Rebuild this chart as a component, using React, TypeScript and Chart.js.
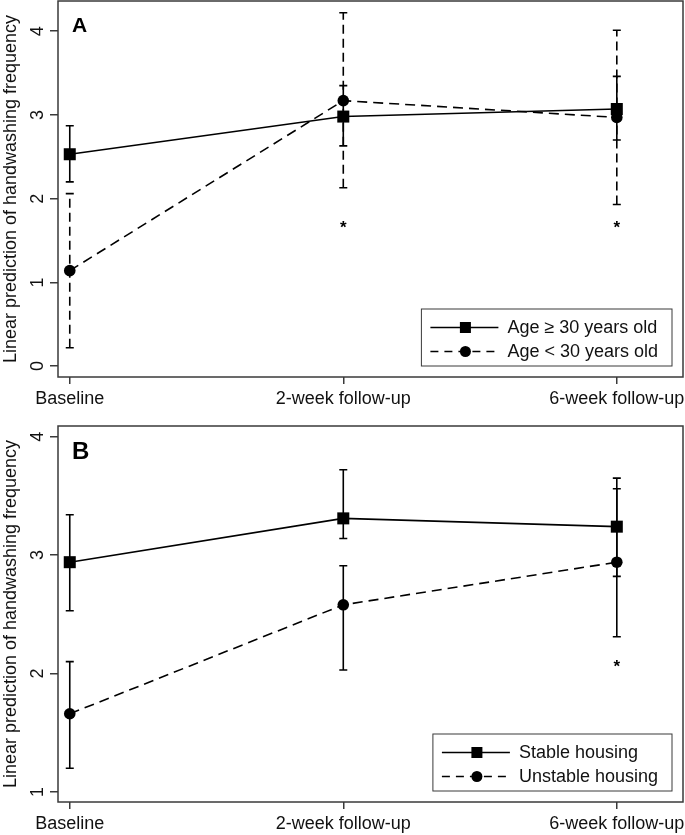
import React, { useEffect, useRef } from "react";
import { Chart, registerables } from "chart.js";

Chart.register(...registerables);

// ---------- Data ----------
const timepoints = ["Baseline", "2-week follow-up", "6-week follow-up"];
const yAxisTitle = "Linear prediction of handwashing frequency";

// Panel A
const ageOlderLabel = "Age \u2265 30 years old";
const ageOlderMean = [2.53, 2.98, 3.07];
const ageOlderLow = [2.2, 2.63, 2.7];
const ageOlderHigh = [2.87, 3.35, 3.46];

const ageYoungerLabel = "Age < 30 years old";
const ageYoungerMean = [1.14, 3.17, 2.97];
const ageYoungerLow = [0.22, 2.13, 1.93];
const ageYoungerHigh = [2.06, 4.22, 4.01];

const starsA = [null, 1.69, 1.69];
const yTicksA = [0, 1, 2, 3, 4];

// Panel B
const stableLabel = "Stable housing";
const stableMean = [2.94, 3.31, 3.24];
const stableLow = [2.53, 3.14, 2.82];
const stableHigh = [3.34, 3.72, 3.65];

const unstableLabel = "Unstable housing";
const unstableMean = [1.66, 2.58, 2.94];
const unstableLow = [1.2, 2.03, 2.31];
const unstableHigh = [2.1, 2.91, 3.56];

const starsB = [null, null, 2.08];
const yTicksB = [1, 2, 3, 4];

// ---------- Styling ----------
const FONT = '"Liberation Sans", Arial, Helvetica, sans-serif';
const FS = 18;
const INK = "#111";
const FRAME = "#3a3a3a";
const W = 685;

type Series = {
  label: string;
  mean: number[];
  low: number[];
  high: number[];
  dashed: boolean;
  point: "rect" | "circle";
};

type PanelCfg = {
  letter: string;
  letterSize: number;
  series: Series[];
  stars: (number | null)[];
  yTicks: number[];
  yMin: number;
  yMax: number;
  dashedErrorBars: boolean;
  padTop: number;
  height: number;
};

const panelA: PanelCfg = {
  letter: "A",
  letterSize: 21,
  series: [
    { label: ageOlderLabel, mean: ageOlderMean, low: ageOlderLow, high: ageOlderHigh, dashed: false, point: "rect" },
    { label: ageYoungerLabel, mean: ageYoungerMean, low: ageYoungerLow, high: ageYoungerHigh, dashed: true, point: "circle" },
  ],
  stars: starsA,
  yTicks: yTicksA,
  yMin: -0.13,
  yMax: 4.36,
  dashedErrorBars: true,
  padTop: 1,
  height: 410,
};

const panelB: PanelCfg = {
  letter: "B",
  letterSize: 24,
  series: [
    { label: stableLabel, mean: stableMean, low: stableLow, high: stableHigh, dashed: false, point: "rect" },
    { label: unstableLabel, mean: unstableMean, low: unstableLow, high: unstableHigh, dashed: true, point: "circle" },
  ],
  stars: starsB,
  yTicks: yTicksB,
  yMin: 0.915,
  yMax: 4.09,
  dashedErrorBars: false,
  padTop: 16,
  height: 425,
};

function drawMarker(ctx: CanvasRenderingContext2D, kind: string, x: number, y: number, size: number) {
  ctx.fillStyle = "#000";
  if (kind === "rect") {
    ctx.fillRect(x - size / 2, y - size / 2, size, size);
  } else {
    ctx.beginPath();
    ctx.arc(x, y, size / 2, 0, Math.PI * 2);
    ctx.fill();
  }
}

function makePlugin(cfg: PanelCfg) {
  return {
    id: "panelDecor",
    beforeDatasetsDraw(chart: any) {
      const { ctx, scales } = chart;
      const x = scales.x;
      const y = scales.y;
      ctx.save();
      ctx.strokeStyle = "#000";
      ctx.lineWidth = 1.6;
      cfg.series.forEach((s) => {
        s.mean.forEach((_, i) => {
          const px = x.getPixelForValue(i);
          const yl = y.getPixelForValue(s.low[i]);
          const yh = y.getPixelForValue(s.high[i]);
          ctx.setLineDash(cfg.dashedErrorBars && s.dashed ? [9, 5] : []);
          ctx.beginPath();
          ctx.moveTo(px, yl);
          ctx.lineTo(px, yh);
          ctx.stroke();
          ctx.setLineDash([]);
          ctx.beginPath();
          ctx.moveTo(px - 4, yl);
          ctx.lineTo(px + 4, yl);
          ctx.moveTo(px - 4, yh);
          ctx.lineTo(px + 4, yh);
          ctx.stroke();
        });
      });
      ctx.restore();
    },
    afterDraw(chart: any) {
      const { ctx, chartArea, scales } = chart;
      const x = scales.x;
      const y = scales.y;
      ctx.save();
      // frame
      ctx.strokeStyle = FRAME;
      ctx.lineWidth = 1.5;
      ctx.strokeRect(chartArea.left, chartArea.top, chartArea.right - chartArea.left, chartArea.bottom - chartArea.top);

      // y tick labels (rotated)
      ctx.fillStyle = INK;
      ctx.font = `${FS}px ${FONT}`;
      ctx.textAlign = "center";
      ctx.textBaseline = "middle";
      cfg.yTicks.forEach((v) => {
        const py = y.getPixelForValue(v);
        ctx.save();
        ctx.translate(chartArea.left - 20, py);
        ctx.rotate(-Math.PI / 2);
        ctx.fillText(String(v), 0, 0);
        ctx.restore();
      });

      // panel letter
      ctx.font = `bold ${cfg.letterSize}px ${FONT}`;
      ctx.textAlign = "left";
      ctx.textBaseline = "alphabetic";
      ctx.fillStyle = "#000";
      ctx.fillText(cfg.letter, chartArea.left + 14, chartArea.top + 15 + cfg.letterSize * 0.75);

      // significance stars
      ctx.font = `bold 17px ${FONT}`;
      ctx.textAlign = "center";
      cfg.stars.forEach((v, i) => {
        if (v == null) return;
        ctx.fillText("*", x.getPixelForValue(i), y.getPixelForValue(v) + 8);
      });

      // legend
      ctx.font = `${FS}px ${FONT}`;
      const tw = Math.max(...cfg.series.map((s) => ctx.measureText(s.label).width));
      const bw = 100 + tw;
      const bh = 57;
      const bx = chartArea.right - 11 - bw;
      const by = chartArea.bottom - 11 - bh;
      ctx.fillStyle = "#fff";
      ctx.fillRect(bx, by, bw, bh);
      ctx.strokeStyle = FRAME;
      ctx.lineWidth = 1;
      ctx.strokeRect(bx, by, bw, bh);
      cfg.series.forEach((s, r) => {
        const ry = by + 18.5 + r * 24;
        ctx.strokeStyle = "#000";
        ctx.lineWidth = 1.5;
        ctx.setLineDash(s.dashed ? [8, 6] : []);
        ctx.beginPath();
        ctx.moveTo(bx + 9, ry);
        ctx.lineTo(bx + 77, ry);
        ctx.stroke();
        ctx.setLineDash([]);
        drawMarker(ctx, s.point, bx + 44, ry, 11);
        ctx.fillStyle = INK;
        ctx.textAlign = "left";
        ctx.textBaseline = "middle";
        ctx.fillText(s.label, bx + 86, ry + 1);
      });
      ctx.restore();
    },
  };
}

function Panel({ cfg, top }: { cfg: PanelCfg; top: number }) {
  const ref = useRef<HTMLCanvasElement | null>(null);
  useEffect(() => {
    if (!ref.current) return;
    const chart = new Chart(ref.current, {
      type: "line",
      data: {
        datasets: cfg.series.map((s) => ({
          label: s.label,
          data: s.mean.map((v, i) => ({ x: i, y: v })),
          borderColor: "#000",
          backgroundColor: "#000",
          borderWidth: 1.6,
          borderDash: s.dashed ? [10, 6] : [],
          pointStyle: s.point,
          pointRadius: s.point === "rect" ? 8.5 : 5.8,
          pointBorderWidth: 0,
          pointBackgroundColor: "#000",
          tension: 0,
          fill: false,
        })),
      },
      options: {
        animation: false,
        responsive: false,
        maintainAspectRatio: false,
        devicePixelRatio: 1,
        layout: { autoPadding: false, padding: { top: cfg.padTop, right: 2, left: 0, bottom: 0 } },
        plugins: { legend: { display: false }, tooltip: { enabled: false } },
        scales: {
          x: {
            type: "linear",
            min: -0.043,
            max: 2.242,
            afterBuildTicks: (s: any) => {
              s.ticks = timepoints.map((_, i) => ({ value: i }));
            },
            afterFit: (s: any) => {
              s.height = 33;
              s.paddingLeft = 0;
              s.paddingRight = 0;
            },
            ticks: {
              callback: (v: any) => timepoints[v] ?? "",
              font: { family: FONT, size: FS },
              color: INK,
              padding: 4,
              maxRotation: 0,
              minRotation: 0,
              autoSkip: false,
            },
            grid: { drawOnChartArea: false, drawTicks: true, tickLength: 7, color: FRAME, lineWidth: 1.5 },
            border: { display: false },
          },
          y: {
            type: "linear",
            min: cfg.yMin,
            max: cfg.yMax,
            afterBuildTicks: (s: any) => {
              s.ticks = cfg.yTicks.map((v) => ({ value: v }));
            },
            afterFit: (s: any) => {
              s.width = 58;
              s.paddingTop = 0;
              s.paddingBottom = 0;
            },
            ticks: { display: false },
            grid: { drawOnChartArea: false, drawTicks: true, tickLength: 8, color: FRAME, lineWidth: 1.5 },
            border: { display: false },
            title: {
              display: true,
              text: yAxisTitle,
              font: { family: FONT, size: FS },
              color: INK,
              padding: 0,
            },
          },
        },
      },
      plugins: [makePlugin(cfg)],
    } as any);
    return () => chart.destroy();
  }, [cfg]);
  return (
    <div style={{ position: "absolute", left: 0, top, width: W, height: cfg.height, overflow: "hidden" }}>
      <canvas ref={ref} width={W} height={cfg.height} style={{ display: "block", width: W, height: cfg.height }} />
    </div>
  );
}

export default function App() {
  return (
    <div style={{ position: "absolute", left: 0, top: 0, width: W, height: 835, background: "#fff", overflow: "hidden" }}>
      <Panel cfg={panelA} top={0} />
      <Panel cfg={panelB} top={410} />
    </div>
  );
}
